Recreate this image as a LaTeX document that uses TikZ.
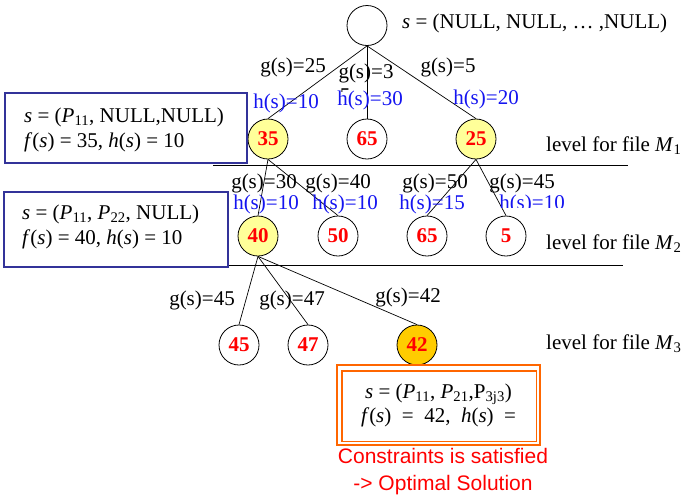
\documentclass[tikz,border=0pt]{standalone}
\usepackage{fontspec}
\setmainfont{Liberation Serif}
\newfontfamily\redsans{Liberation Sans}
\definecolor{hblue}{RGB}{20,20,240}
\definecolor{boxblue}{RGB}{51,51,153}
\definecolor{lyellow}{RGB}{255,255,153}
\definecolor{gold}{RGB}{255,204,0}
\definecolor{orangeb}{RGB}{255,102,0}
\definecolor{redtxt}{RGB}{255,0,0}
\begin{document}
\begin{tikzpicture}[x=1pt,y=-1pt,
  every node/.style={font=\fontsize{21}{25}\selectfont, inner sep=0pt},
  st/.style={circle, draw, line width=0.8pt, minimum size=40pt, font=\fontsize{21}{25}\selectfont\bfseries, text=redtxt},
  sel/.style={st, fill=lyellow},
  best/.style={st, fill=gold},
  glab/.style={text=black},
  hlab/.style={text=hblue},
  edge/.style={line width=0.7pt},
  sep/.style={line width=0.8pt},
  infobox/.style={draw=boxblue, line width=1.6pt, fill=white},
  boxtext/.style={anchor=west, align=left},
  lvl/.style={anchor=west}
]
\useasboundingbox (0,0) rectangle (682,499);
% states
\node[st] (r) at (367,25.5) {};
\node[anchor=west] (rtxt) at (402,23) {\textit{s} = (NULL, NULL, … ,NULL)};
\node[sel] (a1) at (268,139) {35};
\node[st]  (a2) at (367,139) {65};
\node[sel] (a3) at (476,139) {25};
\node[sel] (b1) at (258,236) {40};
\node[st]  (b2) at (338,236) {50};
\node[st]  (b3) at (427,236) {65};
\node[st]  (b4) at (506,236) {5};
\node[st]  (c1) at (239,345) {45};
\node[st]  (c2) at (308,345) {47};
\node[best](c3) at (417,345) {42};
% edges
\foreach \t in {a1,a2,a3} \draw[edge] (r.south) -- (\t.north);
\draw[edge] (a1.south) -- (b1.north);
\draw[edge] (a1.south) -- (b2.north);
\draw[edge] (a3.south) -- (b3.north);
\draw[edge] (a3.south) -- (b4.north);
\foreach \t in {c1,c2,c3} \draw[edge] (b1.south) -- (\t.north);
% separators
\coordinate (s1a) at (213,165); \coordinate (s1b) at (628,165);
\coordinate (s2a) at (228,265); \coordinate (s2b) at (623,265);
\draw[sep] (s1a) -- (s1b);
\draw[sep] (s2a) -- (s2b);
% edge labels level 1
\node[glab] (g1) at (293,67) {g(s)=25};
\node[glab] (g2) at (366,73) {g(s)=3};
\begin{scope}
\clip (335,80) rectangle (360,91);
\node[glab] (g2b) at (345,96) {5};
\end{scope}
\node[glab] (g3) at (448,67) {g(s)=5};
\node[hlab] (h1) at (286,103) {h(s)=10};
\node[hlab] (h2) at (370,100) {h(s)=30};
\node[hlab] (h3) at (486,99) {h(s)=20};
% level 2 labels
\node[glab] (g4) at (264,183) {g(s)=30};
\node[glab] (g5) at (338,183) {g(s)=40};
\node[glab] (g6) at (435,183) {g(s)=50};
\node[glab] (g7) at (522,183) {g(s)=45};
\node[hlab] (h4) at (266,204) {h(s)=10};
\node[hlab] (h5) at (345,204) {h(s)=10};
\node[hlab] (h6) at (432,204) {h(s)=15};
\begin{scope}
\clip (490,190) rectangle (580,207);
\node[hlab] (h7) at (532,204) {h(s)=10};
\end{scope}
% level 3 labels
\node[glab] (g8) at (202,300) {g(s)=45};
\node[glab] (g9) at (292,300) {g(s)=47};
\node[glab] (g10) at (408,297) {g(s)=42};
% level labels
\node[lvl] (l1) at (546,146) {level for file \textit{M}\textsubscript{1}};
\node[lvl] (l2) at (546,244) {level for file \textit{M}\textsubscript{2}};
\node[lvl] (l3) at (546,344) {level for file \textit{M}\textsubscript{3}};
% info boxes
\node[infobox, minimum width=242pt, minimum height=70pt] (bx1) at (126,128) {};
\node[boxtext] (bt1) at (24,129.5)
  {\textit{s} = (\textit{P}\textsubscript{11}, NULL,NULL)\\\textit{f}(\textit{s}) = 35, \textit{h}(\textit{s}) = 10};
\node[infobox, minimum width=224pt, minimum height=75pt] (bx2) at (116,229.5) {};
\node[boxtext] (bt2) at (22,226.5)
  {\textit{s} = (\textit{P}\textsubscript{11}, \textit{P}\textsubscript{22}, NULL)\\\textit{f}(\textit{s}) = 40, \textit{h}(\textit{s}) = 10};
\node[draw=orangeb, line width=2.6pt, minimum width=203pt, minimum height=80pt, align=center, fill=white] (bx3) at (438.5,405)
  {\textit{s} = (\textit{P}\textsubscript{11}, \textit{P}\textsubscript{21},P\textsubscript{3j3})\\[-1pt]\textit{f}(\textit{s})\ \ =\ \ 42,\ \ \textit{h}(\textit{s})\ \ =};
\draw[orangeb, line width=1.6pt] ([shift={(6pt,-7pt)}]bx3.north west) rectangle ([shift={(-5pt,5pt)}]bx3.south east);
\node[font=\fontsize{21}{27}\redsans, text=redtxt, align=center] (msg) at (443,472)
  {Constraints is satisfied\\-> Optimal Solution};
\end{tikzpicture}
\end{document}
